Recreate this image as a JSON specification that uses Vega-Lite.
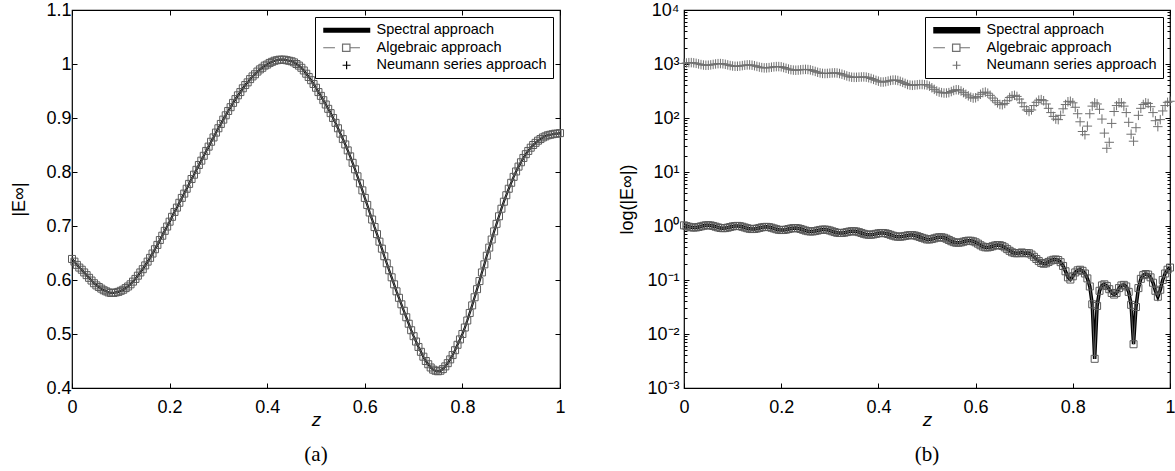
{
"$schema": "https://vega.github.io/schema/vega-lite/v6.json",
"background": "white",
"padding": {"left": 10, "top": 0, "right": 0, "bottom": 0},
"spacing": 51,
"datasets": {
"keys": [{"series": "Spectral approach"}, {"series": "Algebraic approach"}, {"series": "Neumann series approach"}],
"a": [
{"z":0,"E":0.639},{"z":0.005,"E":0.634},{"z":0.01,"E":0.628},{"z":0.015,"E":0.623},{"z":0.02,"E":0.619},{"z":0.025,"E":0.614},{"z":0.03,"E":0.609},{"z":0.035,"E":0.604},{"z":0.04,"E":0.599},{"z":0.045,"E":0.594},
{"z":0.05,"E":0.59},{"z":0.055,"E":0.587},{"z":0.06,"E":0.584},{"z":0.065,"E":0.581},{"z":0.07,"E":0.579},{"z":0.075,"E":0.577},{"z":0.08,"E":0.576},{"z":0.085,"E":0.576},{"z":0.09,"E":0.577},{"z":0.095,"E":0.578},
{"z":0.1,"E":0.58},{"z":0.105,"E":0.582},{"z":0.11,"E":0.585},{"z":0.115,"E":0.588},{"z":0.12,"E":0.592},{"z":0.125,"E":0.597},{"z":0.13,"E":0.602},{"z":0.135,"E":0.608},{"z":0.14,"E":0.614},{"z":0.145,"E":0.62},
{"z":0.15,"E":0.627},{"z":0.155,"E":0.634},{"z":0.16,"E":0.641},{"z":0.165,"E":0.649},{"z":0.17,"E":0.657},{"z":0.175,"E":0.665},{"z":0.18,"E":0.674},{"z":0.185,"E":0.682},{"z":0.19,"E":0.691},{"z":0.195,"E":0.699},
{"z":0.2,"E":0.708},{"z":0.205,"E":0.717},{"z":0.21,"E":0.726},{"z":0.215,"E":0.734},{"z":0.22,"E":0.743},{"z":0.225,"E":0.752},{"z":0.23,"E":0.76},{"z":0.235,"E":0.769},{"z":0.24,"E":0.778},{"z":0.245,"E":0.787},
{"z":0.25,"E":0.795},{"z":0.255,"E":0.804},{"z":0.26,"E":0.813},{"z":0.265,"E":0.821},{"z":0.27,"E":0.83},{"z":0.275,"E":0.839},{"z":0.28,"E":0.847},{"z":0.285,"E":0.856},{"z":0.29,"E":0.864},{"z":0.295,"E":0.873},
{"z":0.3,"E":0.881},{"z":0.305,"E":0.889},{"z":0.31,"E":0.897},{"z":0.315,"E":0.905},{"z":0.32,"E":0.913},{"z":0.325,"E":0.92},{"z":0.33,"E":0.928},{"z":0.335,"E":0.935},{"z":0.34,"E":0.942},{"z":0.345,"E":0.948},
{"z":0.35,"E":0.955},{"z":0.355,"E":0.961},{"z":0.36,"E":0.966},{"z":0.365,"E":0.972},{"z":0.37,"E":0.977},{"z":0.375,"E":0.981},{"z":0.38,"E":0.986},{"z":0.385,"E":0.99},{"z":0.39,"E":0.993},{"z":0.395,"E":0.997},
{"z":0.4,"E":0.999},{"z":0.405,"E":1.002},{"z":0.41,"E":1.004},{"z":0.415,"E":1.006},{"z":0.42,"E":1.007},{"z":0.425,"E":1.008},{"z":0.43,"E":1.008},{"z":0.435,"E":1.008},{"z":0.44,"E":1.007},{"z":0.445,"E":1.006},
{"z":0.45,"E":1.005},{"z":0.455,"E":1.003},{"z":0.46,"E":1.0},{"z":0.465,"E":0.997},{"z":0.47,"E":0.993},{"z":0.475,"E":0.988},{"z":0.48,"E":0.982},{"z":0.485,"E":0.976},{"z":0.49,"E":0.97},{"z":0.495,"E":0.963},
{"z":0.5,"E":0.956},{"z":0.505,"E":0.948},{"z":0.51,"E":0.941},{"z":0.515,"E":0.933},{"z":0.52,"E":0.925},{"z":0.525,"E":0.917},{"z":0.53,"E":0.909},{"z":0.535,"E":0.9},{"z":0.54,"E":0.891},{"z":0.545,"E":0.881},
{"z":0.55,"E":0.871},{"z":0.555,"E":0.861},{"z":0.56,"E":0.851},{"z":0.565,"E":0.84},{"z":0.57,"E":0.829},{"z":0.575,"E":0.817},{"z":0.58,"E":0.805},{"z":0.585,"E":0.792},{"z":0.59,"E":0.779},{"z":0.595,"E":0.766},
{"z":0.6,"E":0.752},{"z":0.605,"E":0.739},{"z":0.61,"E":0.725},{"z":0.615,"E":0.712},{"z":0.62,"E":0.698},{"z":0.625,"E":0.685},{"z":0.63,"E":0.671},{"z":0.635,"E":0.658},{"z":0.64,"E":0.644},{"z":0.645,"E":0.631},
{"z":0.65,"E":0.618},{"z":0.655,"E":0.605},{"z":0.66,"E":0.592},{"z":0.665,"E":0.579},{"z":0.67,"E":0.567},{"z":0.675,"E":0.555},{"z":0.68,"E":0.543},{"z":0.685,"E":0.531},{"z":0.69,"E":0.519},{"z":0.695,"E":0.507},
{"z":0.7,"E":0.496},{"z":0.705,"E":0.486},{"z":0.71,"E":0.476},{"z":0.715,"E":0.467},{"z":0.72,"E":0.458},{"z":0.725,"E":0.45},{"z":0.73,"E":0.444},{"z":0.735,"E":0.438},{"z":0.74,"E":0.434},{"z":0.745,"E":0.432},
{"z":0.75,"E":0.431},{"z":0.755,"E":0.432},{"z":0.76,"E":0.435},{"z":0.765,"E":0.44},{"z":0.77,"E":0.446},{"z":0.775,"E":0.453},{"z":0.78,"E":0.461},{"z":0.785,"E":0.47},{"z":0.79,"E":0.48},{"z":0.795,"E":0.49},
{"z":0.8,"E":0.5},{"z":0.805,"E":0.512},{"z":0.81,"E":0.525},{"z":0.815,"E":0.539},{"z":0.82,"E":0.553},{"z":0.825,"E":0.568},{"z":0.83,"E":0.583},{"z":0.835,"E":0.598},{"z":0.84,"E":0.614},{"z":0.845,"E":0.629},
{"z":0.85,"E":0.645},{"z":0.855,"E":0.66},{"z":0.86,"E":0.675},{"z":0.865,"E":0.69},{"z":0.87,"E":0.704},{"z":0.875,"E":0.718},{"z":0.88,"E":0.732},{"z":0.885,"E":0.745},{"z":0.89,"E":0.757},{"z":0.895,"E":0.769},
{"z":0.9,"E":0.78},{"z":0.905,"E":0.791},{"z":0.91,"E":0.801},{"z":0.915,"E":0.81},{"z":0.92,"E":0.818},{"z":0.925,"E":0.826},{"z":0.93,"E":0.833},{"z":0.935,"E":0.839},{"z":0.94,"E":0.845},{"z":0.945,"E":0.85},
{"z":0.95,"E":0.854},{"z":0.955,"E":0.858},{"z":0.96,"E":0.861},{"z":0.965,"E":0.864},{"z":0.97,"E":0.866},{"z":0.975,"E":0.868},{"z":0.98,"E":0.869},{"z":0.985,"E":0.87},{"z":0.99,"E":0.871},{"z":0.995,"E":0.871},
{"z":1,"E":0.872}
],
"b": [
{"z":0,"E":1.029,"N":1023},{"z":0.005,"E":0.998,"N":1043},{"z":0.01,"E":0.968,"N":1058},{"z":0.015,"E":0.944,"N":1061},{"z":0.02,"E":0.936,"N":1050},{"z":0.025,"E":0.941,"N":1029},{"z":0.03,"E":0.959,"N":1003},{"z":0.035,"E":0.984,"N":976},{"z":0.04,"E":1.01,"N":957},{"z":0.045,"E":1.03,"N":947},
{"z":0.05,"E":1.035,"N":950},{"z":0.055,"E":1.025,"N":963},{"z":0.06,"E":1.001,"N":982},{"z":0.065,"E":0.971,"N":1002},{"z":0.07,"E":0.941,"N":1015},{"z":0.075,"E":0.919,"N":1018},{"z":0.08,"E":0.91,"N":1009},{"z":0.085,"E":0.915,"N":987},{"z":0.09,"E":0.933,"N":962},{"z":0.095,"E":0.957,"N":936},
{"z":0.1,"E":0.983,"N":918},{"z":0.105,"E":1.0,"N":907},{"z":0.11,"E":1.005,"N":908},{"z":0.115,"E":0.993,"N":917},{"z":0.12,"E":0.969,"N":934},{"z":0.125,"E":0.939,"N":950},{"z":0.13,"E":0.91,"N":962},{"z":0.135,"E":0.887,"N":962},{"z":0.14,"E":0.877,"N":950},{"z":0.145,"E":0.881,"N":929},
{"z":0.15,"E":0.897,"N":903},{"z":0.155,"E":0.92,"N":877},{"z":0.16,"E":0.944,"N":858},{"z":0.165,"E":0.96,"N":847},{"z":0.17,"E":0.964,"N":848},{"z":0.175,"E":0.953,"N":857},{"z":0.18,"E":0.93,"N":872},{"z":0.185,"E":0.901,"N":886},{"z":0.19,"E":0.872,"N":896},{"z":0.195,"E":0.85,"N":896},
{"z":0.2,"E":0.841,"N":886},{"z":0.205,"E":0.844,"N":861},{"z":0.21,"E":0.857,"N":833},{"z":0.215,"E":0.878,"N":806},{"z":0.22,"E":0.898,"N":784},{"z":0.225,"E":0.913,"N":771},{"z":0.23,"E":0.916,"N":767},{"z":0.235,"E":0.904,"N":772},{"z":0.24,"E":0.881,"N":781},{"z":0.245,"E":0.851,"N":790},
{"z":0.25,"E":0.823,"N":795},{"z":0.255,"E":0.802,"N":790},{"z":0.26,"E":0.791,"N":777},{"z":0.265,"E":0.793,"N":754},{"z":0.27,"E":0.806,"N":729},{"z":0.275,"E":0.825,"N":703},{"z":0.28,"E":0.845,"N":683},{"z":0.285,"E":0.858,"N":670},{"z":0.29,"E":0.86,"N":667},{"z":0.295,"E":0.848,"N":669},
{"z":0.3,"E":0.826,"N":676},{"z":0.305,"E":0.798,"N":682},{"z":0.31,"E":0.772,"N":686},{"z":0.315,"E":0.75,"N":681},{"z":0.32,"E":0.741,"N":667},{"z":0.325,"E":0.742,"N":647},{"z":0.33,"E":0.753,"N":624},{"z":0.335,"E":0.771,"N":601},{"z":0.34,"E":0.788,"N":582},{"z":0.345,"E":0.801,"N":570},
{"z":0.35,"E":0.802,"N":566},{"z":0.355,"E":0.79,"N":567},{"z":0.36,"E":0.769,"N":571},{"z":0.365,"E":0.743,"N":575},{"z":0.37,"E":0.717,"N":577},{"z":0.375,"E":0.698,"N":571},{"z":0.38,"E":0.688,"N":558},{"z":0.385,"E":0.689,"N":539},{"z":0.39,"E":0.7,"N":519},{"z":0.395,"E":0.716,"N":498},
{"z":0.4,"E":0.732,"N":481},{"z":0.405,"E":0.742,"N":464},{"z":0.41,"E":0.742,"N":463},{"z":0.415,"E":0.731,"N":471},{"z":0.42,"E":0.711,"N":483},{"z":0.425,"E":0.686,"N":496},{"z":0.43,"E":0.662,"N":504},{"z":0.435,"E":0.643,"N":504},{"z":0.44,"E":0.633,"N":495},{"z":0.445,"E":0.633,"N":477},
{"z":0.45,"E":0.642,"N":457},{"z":0.455,"E":0.655,"N":437},{"z":0.46,"E":0.669,"N":417},{"z":0.465,"E":0.678,"N":407},{"z":0.47,"E":0.678,"N":403},{"z":0.475,"E":0.667,"N":407},{"z":0.48,"E":0.648,"N":412},{"z":0.485,"E":0.625,"N":417},{"z":0.49,"E":0.603,"N":417},{"z":0.495,"E":0.585,"N":414},
{"z":0.5,"E":0.563,"N":407},{"z":0.505,"E":0.563,"N":389},{"z":0.51,"E":0.573,"N":363},{"z":0.515,"E":0.59,"N":339},{"z":0.52,"E":0.608,"N":316},{"z":0.525,"E":0.619,"N":302},{"z":0.53,"E":0.619,"N":295},{"z":0.535,"E":0.605,"N":290},{"z":0.54,"E":0.581,"N":290},{"z":0.545,"E":0.551,"N":295},
{"z":0.55,"E":0.523,"N":309},{"z":0.555,"E":0.502,"N":324},{"z":0.56,"E":0.49,"N":334},{"z":0.565,"E":0.49,"N":331},{"z":0.57,"E":0.497,"N":316},{"z":0.575,"E":0.512,"N":295},{"z":0.58,"E":0.526,"N":275},{"z":0.585,"E":0.535,"N":257},{"z":0.59,"E":0.533,"N":243},{"z":0.595,"E":0.521,"N":234},
{"z":0.6,"E":0.499,"N":237},{"z":0.605,"E":0.471,"N":251},{"z":0.61,"E":0.44,"N":275},{"z":0.615,"E":0.416,"N":295},{"z":0.62,"E":0.403,"N":302},{"z":0.625,"E":0.401,"N":288},{"z":0.63,"E":0.409,"N":263},{"z":0.635,"E":0.422,"N":234},{"z":0.64,"E":0.436,"N":209},{"z":0.645,"E":0.444,"N":191},
{"z":0.65,"E":0.441,"N":178},{"z":0.655,"E":0.427,"N":176},{"z":0.66,"E":0.402,"N":186},{"z":0.665,"E":0.373,"N":209},{"z":0.67,"E":0.347,"N":240},{"z":0.675,"E":0.326,"N":257},{"z":0.68,"E":0.315,"N":263},{"z":0.685,"E":0.312,"N":251},{"z":0.69,"E":0.315,"N":224},{"z":0.695,"E":0.324,"N":191},
{"z":0.7,"E":0.313,"N":162},{"z":0.705,"E":0.316,"N":141},{"z":0.71,"E":0.313,"N":132},{"z":0.715,"E":0.295,"N":141},{"z":0.72,"E":0.269,"N":170},{"z":0.725,"E":0.245,"N":195},{"z":0.73,"E":0.224,"N":214},{"z":0.735,"E":0.207,"N":219},{"z":0.74,"E":0.2,"N":209},{"z":0.745,"E":0.204,"N":182},
{"z":0.75,"E":0.216,"N":151},{"z":0.755,"E":0.229,"N":126},{"z":0.76,"E":0.237,"N":107},{"z":0.765,"E":0.24,"N":95.5},{"z":0.77,"E":0.234,"N":93.3},{"z":0.775,"E":0.214,"N":112},{"z":0.78,"E":0.182,"N":148},{"z":0.785,"E":0.145,"N":178},{"z":0.79,"E":0.112,"N":200},{"z":0.795,"E":0.102,"N":204},
{"z":0.8,"E":0.117,"N":191},{"z":0.805,"E":0.138,"N":158},{"z":0.81,"E":0.151,"N":120},{"z":0.815,"E":0.155,"N":85.1},{"z":0.82,"E":0.148,"N":56.2},{"z":0.825,"E":0.132,"N":49.0},{"z":0.83,"E":0.107,"N":70.8},{"z":0.835,"E":0.0759,"N":120},{"z":0.84,"E":0.0355,"N":166},{"z":0.845,"E":0.00347,"N":191},
{"z":0.85,"E":0.0331,"N":182},{"z":0.855,"E":0.0631,"N":145},{"z":0.86,"E":0.0794,"N":95.5},{"z":0.865,"E":0.0832,"N":52.5},{"z":0.87,"E":0.0776,"N":27.5},{"z":0.875,"E":0.0676,"N":35.5},{"z":0.88,"E":0.0575,"N":79.4},{"z":0.885,"E":0.0537,"N":132},{"z":0.89,"E":0.0575,"N":170},{"z":0.895,"E":0.0708,"N":191},
{"z":0.9,"E":0.0794,"N":191},{"z":0.905,"E":0.0813,"N":166},{"z":0.91,"E":0.0759,"N":126},{"z":0.915,"E":0.0603,"N":83.2},{"z":0.92,"E":0.0347,"N":50.1},{"z":0.925,"E":0.00646,"N":37.2},{"z":0.93,"E":0.0316,"N":66.1},{"z":0.935,"E":0.0708,"N":112},{"z":0.94,"E":0.105,"N":151},{"z":0.945,"E":0.123,"N":178},
{"z":0.95,"E":0.129,"N":191},{"z":0.955,"E":0.126,"N":186},{"z":0.96,"E":0.112,"N":162},{"z":0.965,"E":0.0891,"N":126},{"z":0.97,"E":0.0631,"N":89.1},{"z":0.975,"E":0.049,"N":69.2},{"z":0.98,"E":0.0661,"N":93.3},{"z":0.985,"E":0.1,"N":135},{"z":0.99,"E":0.132,"N":170},{"z":0.995,"E":0.155,"N":195},
{"z":1,"E":0.17,"N":204}
]
},
"hconcat": [
{
"width": 488, "height": 378,
"title": {"text": "(a)", "orient": "bottom", "font": "Liberation Serif", "fontSize": 21, "fontWeight": "normal", "color": "black", "offset": 15},
"resolve": {"axis": {"x": "independent", "y": "independent"}},
"layer": [
{"data": {"name": "a"}, "mark": {"type": "line", "color": "black", "strokeWidth": 2.2},
 "encoding": {
  "x": {"field": "z", "type": "quantitative", "scale": {"domain": [0, 1], "nice": false, "zero": false},
        "axis": {"orient": "bottom", "values": [0, 0.2, 0.4, 0.6, 0.8, 1], "format": ".1~f", "tickSize": -5, "labelPadding": 15, "title": "z", "titleFontStyle": "italic", "titleFontSize": 19, "titlePadding": -6}},
  "y": {"field": "E", "type": "quantitative", "scale": {"domain": [0.4, 1.1], "nice": false, "zero": false},
        "axis": {"orient": "left", "values": [0.4, 0.5, 0.6, 0.7, 0.8, 0.9, 1, 1.1], "format": ".1~f", "tickSize": -5, "labelPadding": 6, "title": "|E∞|", "titlePadding": 17}}
 }},
{"data": {"name": "a"}, "mark": {"type": "line", "color": "#777777", "strokeWidth": 0.8},
 "encoding": {
  "x": {"field": "z", "type": "quantitative", "scale": {"domain": [0, 1], "nice": false, "zero": false},
        "axis": {"orient": "top", "values": [0, 0.2, 0.4, 0.6, 0.8, 1], "labels": false, "tickSize": -5, "title": null}},
  "y": {"field": "E", "type": "quantitative", "scale": {"domain": [0.4, 1.1], "nice": false, "zero": false},
        "axis": {"orient": "right", "values": [0.4, 0.5, 0.6, 0.7, 0.8, 0.9, 1, 1.1], "labels": false, "tickSize": -5, "title": null}}
 }},
{"data": {"name": "a"}, "mark": {"type": "point", "shape": "square", "filled": false, "color": "#5a5a5a", "size": 49, "strokeWidth": 1, "opacity": 1},
 "encoding": {
  "x": {"field": "z", "type": "quantitative", "scale": {"domain": [0, 1], "nice": false, "zero": false}, "axis": null},
  "y": {"field": "E", "type": "quantitative", "scale": {"domain": [0.4, 1.1], "nice": false, "zero": false}, "axis": null}
 }},
{"data": {"name": "keys"}, "transform": [{"filter": "datum.series == 'none'"}],
 "mark": {"type": "point", "filled": false, "strokeWidth": 1.2, "opacity": 1},
 "encoding": {
  "shape": {"field": "series", "type": "nominal",
    "scale": {"domain": ["Spectral approach", "Algebraic approach", "Neumann series approach"],
              "range": ["M-1,-0.38H8.4M-1,-0.13H8.4M-1,0.13H8.4M-1,0.38H8.4", "M-1,0H1.34M2.86,-0.74H4.34V0.74H2.86ZM4.34,0H6.34", "M2.87,0H4.47M3.67,-0.8V0.8"]},
    "legend": {"title": null}},
  "color": {"field": "series", "type": "nominal",
    "scale": {"domain": ["Spectral approach", "Algebraic approach", "Neumann series approach"], "range": ["black", "#707070", "black"]},
    "legend": {"title": null}}
 }}
]
},
{
"width": 486, "height": 378,
"title": {"text": "(b)", "orient": "bottom", "font": "Liberation Serif", "fontSize": 21, "fontWeight": "normal", "color": "black", "offset": 15},
"resolve": {"axis": {"x": "independent", "y": "independent"}},
"layer": [
{"data": {"name": "b"}, "mark": {"type": "line", "color": "black", "strokeWidth": 3.5},
 "encoding": {
  "x": {"field": "z", "type": "quantitative", "scale": {"domain": [0, 1], "nice": false, "zero": false},
        "axis": {"orient": "bottom", "values": [0, 0.2, 0.4, 0.6, 0.8, 1], "format": ".1~f", "tickSize": -5, "labelPadding": 15, "title": "z", "titleFontStyle": "italic", "titleFontSize": 19, "titlePadding": -6}},
  "y": {"field": "E", "type": "quantitative", "scale": {"type": "log", "domain": [0.001, 10000], "nice": false},
        "axis": {"orient": "left", "values": [0.001, 0.01, 0.1, 1, 10, 100, 1000, 10000], "tickSize": -5, "labelPadding": 10, "title": "log(|E∞|)", "titlePadding": 10,
                 "labelExpr": "datum.value < 0.005 ? '10⁻³' : datum.value < 0.05 ? '10⁻²' : datum.value < 0.5 ? '10⁻¹' : datum.value < 5 ? '10⁰' : datum.value < 50 ? '10¹' : datum.value < 500 ? '10²' : datum.value < 5000 ? '10³' : '10⁴'"}}
 }},
{"data": {"name": "b"}, "mark": {"type": "line", "color": "#777777", "strokeWidth": 0.8},
 "encoding": {
  "x": {"field": "z", "type": "quantitative", "scale": {"domain": [0, 1], "nice": false, "zero": false},
        "axis": {"orient": "top", "values": [0, 0.2, 0.4, 0.6, 0.8, 1], "labels": false, "tickSize": -5, "title": null}},
  "y": {"field": "E", "type": "quantitative", "scale": {"type": "log", "domain": [0.001, 10000], "nice": false},
        "axis": {"orient": "right", "values": [0.001, 0.01, 0.1, 1, 10, 100, 1000, 10000], "labels": false, "tickSize": -5, "title": null}}
 }},
{"data": {"name": "b"}, "mark": {"type": "point", "shape": "square", "filled": false, "color": "#5a5a5a", "size": 49, "strokeWidth": 1, "opacity": 1},
 "encoding": {
  "x": {"field": "z", "type": "quantitative", "scale": {"domain": [0, 1], "nice": false, "zero": false}, "axis": null},
  "y": {"field": "E", "type": "quantitative", "scale": {"type": "log", "domain": [0.001, 10000], "nice": false},
        "axis": {"orient": "left", "labels": false, "tickSize": -3, "title": null,
                 "values": [0.002,0.003,0.004,0.005,0.006,0.007,0.008,0.009,0.02,0.03,0.04,0.05,0.06,0.07,0.08,0.09,0.2,0.3,0.4,0.5,0.6,0.7,0.8,0.9,2,3,4,5,6,7,8,9,20,30,40,50,60,70,80,90,200,300,400,500,600,700,800,900,2000,3000,4000,5000,6000,7000,8000,9000]}}
 }},
{"data": {"name": "b"}, "mark": {"type": "point", "shape": "M-1,0H1M0,-1V1", "filled": false, "color": "#707070", "size": 90, "strokeWidth": 1, "opacity": 1},
 "encoding": {
  "x": {"field": "z", "type": "quantitative", "scale": {"domain": [0, 1], "nice": false, "zero": false}, "axis": null},
  "y": {"field": "N", "type": "quantitative", "scale": {"type": "log", "domain": [0.001, 10000], "nice": false},
        "axis": {"orient": "right", "labels": false, "tickSize": -3, "title": null,
                 "values": [0.002,0.003,0.004,0.005,0.006,0.007,0.008,0.009,0.02,0.03,0.04,0.05,0.06,0.07,0.08,0.09,0.2,0.3,0.4,0.5,0.6,0.7,0.8,0.9,2,3,4,5,6,7,8,9,20,30,40,50,60,70,80,90,200,300,400,500,600,700,800,900,2000,3000,4000,5000,6000,7000,8000,9000]}}
 }},
{"data": {"name": "keys"}, "transform": [{"filter": "datum.series == 'none'"}],
 "mark": {"type": "point", "filled": false, "strokeWidth": 1.2, "opacity": 1},
 "encoding": {
  "shape": {"field": "series", "type": "nominal",
    "scale": {"domain": ["Spectral approach", "Algebraic approach", "Neumann series approach"],
              "range": ["M-1,-0.55H8.4M-1,-0.33H8.4M-1,-0.11H8.4M-1,0.11H8.4M-1,0.33H8.4M-1,0.55H8.4", "M-1,0H1.34M2.86,-0.74H4.34V0.74H2.86ZM4.34,0H6.34", "M2.87,0H4.47M3.67,-0.8V0.8"]},
    "legend": {"title": null}},
  "color": {"field": "series", "type": "nominal",
    "scale": {"domain": ["Spectral approach", "Algebraic approach", "Neumann series approach"], "range": ["black", "#707070", "#707070"]},
    "legend": {"title": null}}
 }}
]
}
],
"resolve": {"scale": {"color": "independent", "shape": "independent"}},
"config": {
 "view": {"stroke": "black", "strokeWidth": 1.2},
 "axis": {"domain": false, "grid": false, "tickColor": "black", "tickWidth": 1, "labelColor": "black", "titleColor": "black",
          "labelFont": "Liberation Sans", "titleFont": "Liberation Sans", "labelFontSize": 18, "titleFontSize": 18, "titleFontWeight": "normal", "labelFlush": false},
 "legend": {"orient": "top-right", "offset": 7, "padding": 6, "rowPadding": 2.5, "strokeColor": "black", "fillColor": "white",
            "symbolSize": 100, "symbolStrokeWidth": 1.2, "labelFont": "Liberation Sans", "labelFontSize": 14.5, "labelLimit": 300,
            "labelOffset": 41, "labelColor": "black", "symbolOpacity": 1}
}
}
